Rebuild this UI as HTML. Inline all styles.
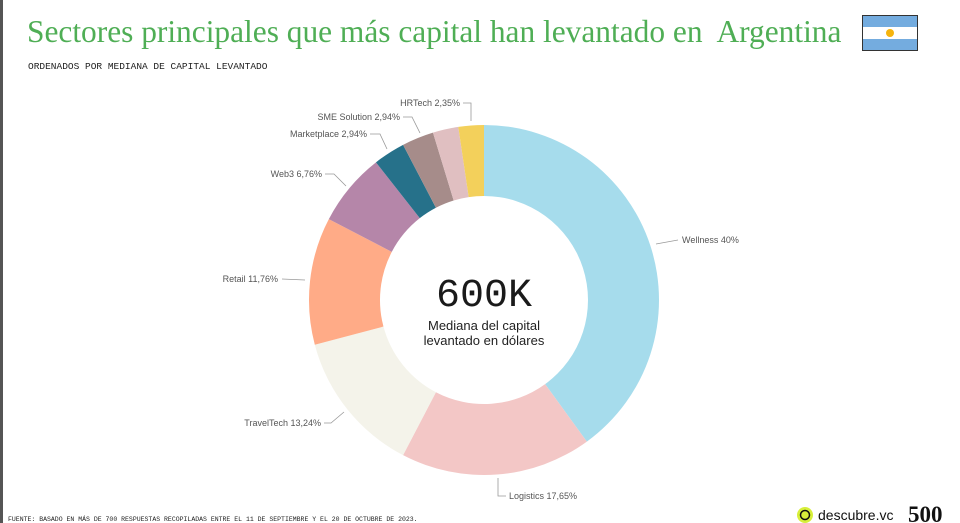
<!DOCTYPE html>
<html><head><meta charset="utf-8"><style>
body{margin:0;background:#fff;}
#c{position:relative;width:960px;height:523px;overflow:hidden;background:#fff;font-family:"Liberation Sans",sans-serif;}
</style></head><body><div id="c">
<div style="position:absolute;left:0;top:0;width:3px;height:523px;background:#555"></div>
<div style="position:absolute;left:27px;top:14px;font-family:'Liberation Serif',serif;font-size:31.4px;color:#4fae55;white-space:nowrap;">Sectores principales que más capital han levantado en&nbsp; Argentina</div>
<div style="position:absolute;left:862px;top:15px;width:56px;height:36px;border:1px solid #333;box-sizing:border-box;background:linear-gradient(#74acdf 0 33%,#fff 33% 67%,#74acdf 67%)"><div style="position:absolute;left:23px;top:13px;width:8px;height:8px;border-radius:50%;background:#f6b40e"></div></div>
<div style="position:absolute;left:28px;top:61px;font-family:'Liberation Mono',monospace;font-size:9.5px;color:#222;">ORDENADOS POR MEDIANA DE CAPITAL LEVANTADO</div>
<svg width="960" height="523" style="position:absolute;left:0;top:0" font-family="Liberation Sans, sans-serif">
<g id="pie"></g>
<g stroke="#999" stroke-width="0.8" fill="none">
<polyline points="463,103 471,103 471,121"/>
<polyline points="403,117 412,117 420,133"/>
<polyline points="370,134 380,134 387,149"/>
<polyline points="325,174 334,174 346,186"/>
<polyline points="282,279 305,280"/>
<polyline points="324,423 331,423 344,412"/>
<polyline points="498,478 498,496 506,496"/>
<polyline points="656,244 678,240"/>
</g>
<g font-size="9" fill="#555">
<text x="460" y="106" text-anchor="end">HRTech 2,35%</text>
<text x="400" y="120" text-anchor="end">SME Solution 2,94%</text>
<text x="367" y="137" text-anchor="end">Marketplace 2,94%</text>
<text x="322" y="177" text-anchor="end">Web3 6,76%</text>
<text x="278" y="282" text-anchor="end">Retail 11,76%</text>
<text x="321" y="426" text-anchor="end">TravelTech 13,24%</text>
<text x="509" y="499">Logistics 17,65%</text>
<text x="682" y="243">Wellness 40%</text>
</g>
<text x="484" y="306" text-anchor="middle" font-family="Liberation Mono, monospace" font-size="40" fill="#1a1a1a">600K</text>
<text x="484" y="330" text-anchor="middle" font-size="13" fill="#222">Mediana del capital</text>
<text x="484" y="345" text-anchor="middle" font-size="13" fill="#222">levantado en dólares</text>
<text x="8" y="521" font-family="Liberation Mono, monospace" font-size="6.5" fill="#222">FUENTE: BASADO EN MÁS DE 700 RESPUESTAS RECOPILADAS ENTRE EL 11 DE SEPTIEMBRE Y EL 20 DE OCTUBRE DE 2023.</text>
<circle cx="805" cy="515" r="8" fill="#d7ef3a"/>
<circle cx="805" cy="515" r="4.5" fill="none" stroke="#111" stroke-width="1.5"/>
<text x="818" y="520" font-size="14" fill="#111">descubre.vc</text>
<text x="908" y="522" font-family="Liberation Serif, serif" font-weight="bold" font-size="23" fill="#111">500</text>
</svg>
<script>
var d=[[40,'#a6dcec'],[17.65,'#f3c7c6'],[13.24,'#f4f3ea'],[11.76,'#ffab87'],[6.76,'#b586a9'],[2.94,'#26718a'],[2.94,'#a68c8a'],[2.36,'#e0bfc1'],[2.35,'#f3d05b']];
var cx=484,cy=300,R=175,r=104,a=0,s='';
function p(ang,rad){return [cx+rad*Math.sin(ang),cy-rad*Math.cos(ang)];}
d.forEach(function(e){var a0=a*Math.PI/50,a1=(a+e[0])*Math.PI/50;a+=e[0];
var L=e[0]>50?1:0,p1=p(a0,R),p2=p(a1,R),p3=p(a1,r),p4=p(a0,r);
s+='<path fill="'+e[1]+'" d="M'+p1+'A'+R+','+R+' 0 '+L+' 1 '+p2+'L'+p3+'A'+r+','+r+' 0 '+L+' 0 '+p4+'Z"/>';});
document.getElementById('pie').innerHTML=s;
</script>
</div></body></html>
